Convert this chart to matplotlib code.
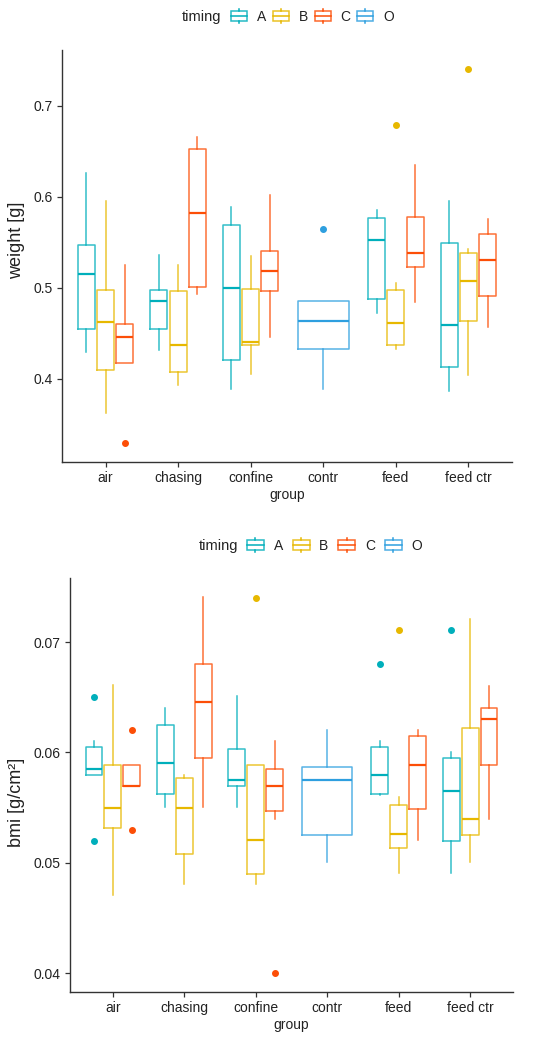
import matplotlib
matplotlib.use("Agg")
import matplotlib.pyplot as plt
from matplotlib.patches import Patch, Rectangle
from matplotlib.lines import Line2D
from matplotlib.legend_handler import HandlerBase

plt.rcParams['font.family'] = ['Liberation Sans', 'DejaVu Sans']

groups = ["air", "chasing", "confine", "contr", "feed", "feed ctr"]
timings = ["A", "B", "C", "O"]
colors = {"A": "#00AFBB", "B": "#E7B800", "C": "#FC4E07", "O": "#2E9FDF"}

# five-number summaries [whisker low, Q1, median, Q3, whisker high] per group (None = absent)
weight_A = [[0.429, 0.455, 0.515, 0.547, 0.626], [0.432, 0.455, 0.485, 0.498, 0.536],
            [0.389, 0.421, 0.500, 0.569, 0.589], None,
            [0.472, 0.488, 0.553, 0.577, 0.586], [0.387, 0.413, 0.459, 0.549, 0.596]]
weight_B = [[0.362, 0.410, 0.462, 0.498, 0.595], [0.393, 0.408, 0.437, 0.497, 0.525],
            [0.405, 0.437, 0.440, 0.499, 0.535], None,
            [0.433, 0.437, 0.461, 0.498, 0.505], [0.404, 0.463, 0.507, 0.538, 0.543]]
weight_C = [[0.417, 0.417, 0.446, 0.460, 0.525], [0.493, 0.501, 0.582, 0.653, 0.666],
            [0.446, 0.497, 0.518, 0.540, 0.602], None,
            [0.484, 0.523, 0.538, 0.578, 0.635], [0.457, 0.491, 0.531, 0.559, 0.576]]
weight_O = [None, None, None, [0.389, 0.433, 0.464, 0.485, 0.485], None, None]
weight_out = {"A": [[], [], [], [], [], []],
              "B": [[], [], [], [], [0.679], [0.741]],
              "C": [[0.329], [], [], [], [], []],
              "O": [[], [], [], [0.565], [], []]}

bmi_A = [[0.0580, 0.0580, 0.0585, 0.0605, 0.0610], [0.0551, 0.0562, 0.0590, 0.0625, 0.0640],
         [0.0551, 0.0570, 0.0575, 0.0603, 0.0651], None,
         [0.0561, 0.0562, 0.0580, 0.0605, 0.0610], [0.0491, 0.0520, 0.0565, 0.0595, 0.0600]]
bmi_B = [[0.0471, 0.0532, 0.0550, 0.0589, 0.0661], [0.0481, 0.0508, 0.0550, 0.0577, 0.0580],
         [0.0481, 0.0490, 0.0521, 0.0589, 0.0589], None,
         [0.0491, 0.0513, 0.0526, 0.0552, 0.0560], [0.0501, 0.0525, 0.0540, 0.0622, 0.0721]]
bmi_C = [[0.0570, 0.0570, 0.0570, 0.0589, 0.0589], [0.0551, 0.0595, 0.0646, 0.0680, 0.0741],
         [0.0540, 0.0547, 0.0570, 0.0585, 0.0610], None,
         [0.0521, 0.0549, 0.0589, 0.0615, 0.0620], [0.0540, 0.0589, 0.0630, 0.0640, 0.0660]]
bmi_O = [None, None, None, [0.0501, 0.0525, 0.0575, 0.0587, 0.0620], None, None]
bmi_out = {"A": [[0.0650, 0.0520], [], [], [], [0.0680], [0.0711]],
           "B": [[], [], [0.0740], [], [0.0711], []],
           "C": [[0.0620, 0.0530], [], [0.0400], [], [], []],
           "O": [[], [], [], [], [], []]}

weight_ticks = [0.4, 0.5, 0.6, 0.7]
bmi_ticks = [0.04, 0.05, 0.06, 0.07]

W, H = 550, 1039
fig = plt.figure(figsize=(W / 100, H / 100), dpi=100)


def px_axes(l, r, t, b):
    return fig.add_axes([l / W, 1 - b / H, (r - l) / W, (b - t) / H])


def draw_panel(ax, series, outliers, ticks, ylim):
    offsets = {"A": -0.265, "B": 0.0, "C": 0.265}
    for t in timings:
        for gi, s in enumerate(series[t]):
            if s is None:
                continue
            if t == "O":
                pos, wid = gi, 0.70
            else:
                pos, wid = gi + offsets[t], 0.235
            st = dict(whislo=s[0], q1=s[1], med=s[2], q3=s[3], whishi=s[4],
                      fliers=outliers[t][gi])
            c = colors[t]
            ax.bxp([st], positions=[pos], widths=wid, showcaps=False,
                   boxprops=dict(color=c, lw=1.1, alpha=0.8),
                   whiskerprops=dict(color=c, lw=1.1, alpha=0.8),
                   medianprops=dict(color=c, lw=1.6),
                   flierprops=dict(marker='o', markerfacecolor=c, markeredgecolor=c,
                                   markersize=4, linestyle='none'),
                   manage_ticks=False)
    ax.set_xlim(-0.6, len(groups) - 0.4)
    ax.set_ylim(*ylim)
    ax.set_xticks(range(len(groups)))
    ax.set_xticklabels(groups)
    ax.set_yticks(ticks)
    ax.set_yticklabels([str(v) for v in ticks])
    for sp in ["top", "right"]:
        ax.spines[sp].set_visible(False)
    for sp in ["left", "bottom"]:
        ax.spines[sp].set_color("#333333")
        ax.spines[sp].set_linewidth(1.0)
    ax.tick_params(axis='both', length=3.5, width=0.9, color="#333333",
                   labelsize=10, labelcolor="#222222", pad=3)


class BoxHandler(HandlerBase):
    def create_artists(self, legend, orig_handle, xdescent, ydescent, width, height,
                       fontsize, trans):
        c = orig_handle.get_edgecolor()
        x0, y0 = -xdescent, -ydescent
        hb = height * 1.35
        yb = y0 + height / 2 - hb / 2
        rect = Rectangle((x0, yb + 0.17 * hb), width, 0.66 * hb, fill=False, ec=c, lw=1.1,
                         alpha=0.85, transform=trans)
        med = Line2D([x0, x0 + width], [yb + hb / 2] * 2, color=c, lw=1.1, transform=trans)
        w1 = Line2D([x0 + width / 2] * 2, [yb, yb + 0.17 * hb], color=c, lw=1.1, transform=trans)
        w2 = Line2D([x0 + width / 2] * 2, [yb + 0.83 * hb, yb + hb], color=c, lw=1.1,
                    transform=trans)
        return [rect, med, w1, w2]


def add_legend(x_title_right, x_keys, y_px, colsp, hl):
    handles = [Patch(edgecolor=colors[t], facecolor='none', label=t) for t in timings]
    fig.text(x_title_right / W, 1 - y_px / H, "timing", ha='right', va='center',
             fontsize=10.5, color="#222222")
    fig.legend(handles=handles, loc='center left', bbox_to_anchor=(x_keys / W, 1 - y_px / H),
               ncol=4, frameon=False, fontsize=10, handler_map={Patch: BoxHandler()},
               handlelength=hl, handleheight=0.8, handletextpad=0.7, columnspacing=colsp,
               borderpad=0, borderaxespad=0, labelcolor="#222222")


# top panel: weight
ax1 = px_axes(62, 512, 50, 462)
draw_panel(ax1, {"A": weight_A, "B": weight_B, "C": weight_C, "O": weight_O}, weight_out,
           weight_ticks, (0.3085, 0.7615))
ax1.set_xlabel("group", fontsize=10, color="#222222", labelpad=2)
fig.text(17 / W, 1 - 240 / H, "weight [g]", rotation=90, ha='center', va='center',
         fontsize=13, color="#222222")
add_legend(221, 231, 17, 0.5, 1.15)

# bottom panel: bmi
ax2 = px_axes(70, 513, 578, 992)
draw_panel(ax2, {"A": bmi_A, "B": bmi_B, "C": bmi_C, "O": bmi_O}, bmi_out,
           bmi_ticks, (0.0383, 0.0758))
ax2.set_xlabel("group", fontsize=10, color="#222222", labelpad=2)
fig.text(17 / W, 1 - 802 / H, "bmi [g/cm²]", rotation=90, ha='center', va='center',
         fontsize=13, color="#222222")
add_legend(238, 247, 546, 0.7, 1.22)

fig.savefig("out.png", dpi=100)
